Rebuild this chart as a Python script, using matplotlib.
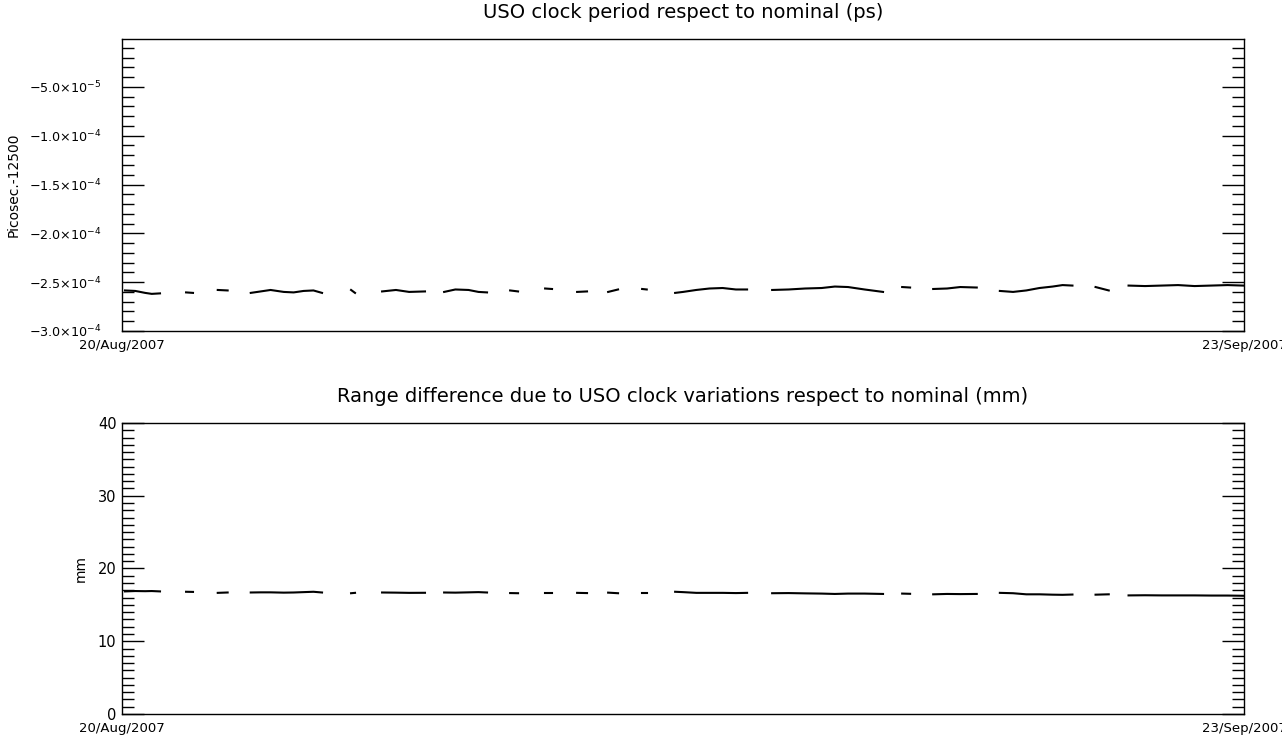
import numpy as np
import matplotlib.pyplot as plt
from matplotlib.ticker import MultipleLocator, FixedLocator

# days since 20/Aug/2007, one list per data pass
seg_days = [
    [0.09, 0.4, 0.7, 0.9, 1.15],
    [1.94, 2.15],
    [2.9, 3.2],
    [3.9, 4.2, 4.5, 4.9, 5.2, 5.5, 5.8, 6.06],
    [6.94, 7.06],
    [7.88, 8.3, 8.7, 9.18],
    [9.76, 10.1, 10.5, 10.8, 11.06],
    [11.76, 12.0],
    [12.82, 13.03],
    [13.79, 14.09],
    [14.73, 15.03],
    [15.76, 15.9],
    [16.76, 17.0, 17.4, 17.8, 18.2, 18.6, 18.94],
    [19.7, 20.2, 20.7, 21.2, 21.6, 22.0, 22.5, 23.06],
    [23.64, 23.88],
    [24.58, 25.0, 25.4, 25.9],
    [26.6, 27.0, 27.4, 27.8, 28.2, 28.5, 28.8],
    [29.5, 29.9],
    [30.5, 31.0, 31.5, 32.0, 32.5, 33.0, 33.5, 33.97],
]

# clock period minus 12500 ps, in units of 1e-4 ps
period_vals = [
    [-2.585, -2.59, -2.61, -2.62, -2.615],
    [-2.605, -2.61],
    [-2.58, -2.585],
    [-2.61, -2.595, -2.58, -2.6, -2.605, -2.59, -2.585, -2.61],
    [-2.58, -2.61],
    [-2.595, -2.58, -2.6, -2.595],
    [-2.6, -2.575, -2.58, -2.6, -2.605],
    [-2.585, -2.595],
    [-2.565, -2.57],
    [-2.6, -2.595],
    [-2.6, -2.575],
    [-2.57, -2.575],
    [-2.61, -2.6, -2.58, -2.565, -2.56, -2.575, -2.575],
    [-2.58, -2.575, -2.565, -2.56, -2.545, -2.55, -2.575, -2.6],
    [-2.55, -2.555],
    [-2.57, -2.565, -2.55, -2.555],
    [-2.59, -2.6, -2.585, -2.56, -2.545, -2.53, -2.535],
    [-2.55, -2.585],
    [-2.535, -2.54, -2.535, -2.53, -2.54, -2.535, -2.53, -2.535],
]

# range difference, mm
range_vals = [
    [16.85, 16.9, 16.88, 16.9, 16.85],
    [16.8, 16.78],
    [16.65, 16.7],
    [16.7, 16.72, 16.72, 16.68, 16.7, 16.75, 16.8, 16.7],
    [16.6, 16.65],
    [16.7, 16.68, 16.65, 16.66],
    [16.7, 16.68, 16.72, 16.75, 16.7],
    [16.62, 16.6],
    [16.6, 16.6],
    [16.65, 16.62],
    [16.68, 16.6],
    [16.6, 16.6],
    [16.8, 16.75, 16.65, 16.65, 16.65, 16.62, 16.65],
    [16.6, 16.62, 16.58, 16.55, 16.5, 16.55, 16.55, 16.5],
    [16.55, 16.52],
    [16.45, 16.5, 16.48, 16.5],
    [16.65, 16.6, 16.45, 16.45, 16.4, 16.38, 16.42],
    [16.4, 16.45],
    [16.3, 16.32, 16.3, 16.3, 16.3, 16.28, 16.28, 16.25],
]

x_ticks = [0, 34]
x_labels = ['20/Aug/2007', '23/Sep/2007']
period_ticks = [-3.0e-4, -2.5e-4, -2.0e-4, -1.5e-4, -1.0e-4, -5.0e-5]
period_labels = [r'$-3.0{\times}10^{-4}$', r'$-2.5{\times}10^{-4}$', r'$-2.0{\times}10^{-4}$',
                 r'$-1.5{\times}10^{-4}$', r'$-1.0{\times}10^{-4}$', r'$-5.0{\times}10^{-5}$']
range_ticks = [0, 10, 20, 30, 40]

fig = plt.figure(figsize=(12.82, 7.36), dpi=100)
ax1 = fig.add_axes([0.0952, 0.5503, 0.8752, 0.3967])
ax2 = fig.add_axes([0.0952, 0.0299, 0.8752, 0.3954])

for d, v in zip(seg_days, period_vals):
    ax1.plot(d, np.array(v) * 1e-4, color='black', lw=1.5)
for d, v in zip(seg_days, range_vals):
    ax2.plot(d, v, color='black', lw=1.5)

ax1.set_ylim(-3e-4, -1e-6)
ax1.yaxis.set_major_locator(FixedLocator(period_ticks))
ax1.set_yticklabels(period_labels)
ax1.yaxis.set_minor_locator(MultipleLocator(1e-5))
ax1.set_ylabel('Picosec.-12500', fontsize=10)
ax1.yaxis.set_label_coords(-0.090, 0.5)
ax1.set_title('USO clock period respect to nominal (ps)', fontsize=14, pad=15)

ax2.set_ylim(0, 40)
ax2.yaxis.set_major_locator(FixedLocator(range_ticks))
ax2.yaxis.set_minor_locator(MultipleLocator(1))
ax2.set_ylabel('mm', fontsize=10)
ax2.yaxis.set_label_coords(-0.031, 0.5)
ax2.set_title('Range difference due to USO clock variations respect to nominal (mm)',
              fontsize=14, pad=15)

for ax in (ax1, ax2):
    ax.set_xlim(0, 34)
    ax.set_xticks(x_ticks)
    ax.set_xticklabels(x_labels, fontsize=9.5)
    ax.tick_params(axis='x', length=0, pad=6)
    ax.tick_params(axis='y', which='both', direction='in', left=True, right=True,
                   labelsize=10.5, width=1)
    ax.tick_params(axis='y', which='major', length=16)
    ax.tick_params(axis='y', which='minor', length=8.5)
    for s in ax.spines.values():
        s.set_linewidth(1)

ax1.tick_params(axis='y', pad=15, labelsize=9.2)
ax2.tick_params(axis='y', pad=4)

fig.savefig('out.png', dpi=100)
